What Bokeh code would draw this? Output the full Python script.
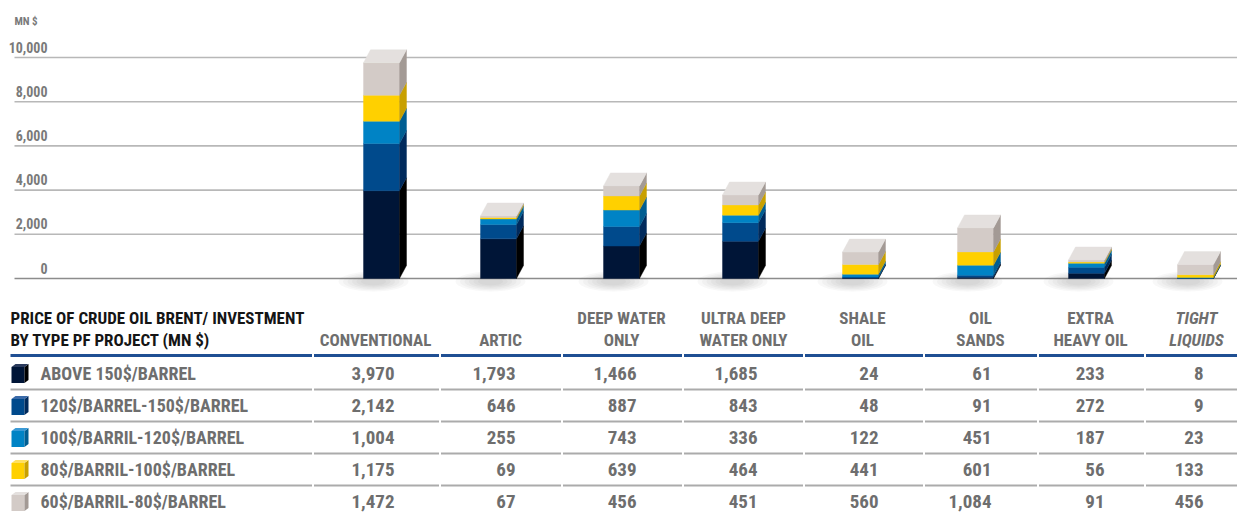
from bokeh.plotting import figure
from bokeh.models import Range1d, Label
from bokeh.layouts import column
from bokeh.core.properties import value
from bokeh.embed import file_html
from bokeh.resources import INLINE

# ---- data -------------------------------------------------------------
project_types = ["CONVENTIONAL", "ARTIC", "DEEP WATER ONLY", "ULTRA DEEP WATER ONLY",
                 "SHALE OIL", "OIL SANDS", "EXTRA HEAVY OIL", "TIGHT LIQUIDS"]
header_line1 = ["", "", "DEEP WATER", "ULTRA DEEP", "SHALE", "OIL", "EXTRA", "TIGHT"]
header_line2 = ["CONVENTIONAL", "ARTIC", "ONLY", "WATER ONLY", "OIL", "SANDS", "HEAVY OIL", "LIQUIDS"]

price_bands = ["ABOVE 150$/BARREL", "120$/BARREL-150$/BARREL", "100$/BARRIL-120$/BARREL",
               "80$/BARRIL-100$/BARREL", "60$/BARRIL-80$/BARREL"]

above_150 = [3970, 1793, 1466, 1685, 24, 61, 233, 8]
from_120_to_150 = [2142, 646, 887, 843, 48, 91, 272, 9]
from_100_to_120 = [1004, 255, 743, 336, 122, 451, 187, 23]
from_80_to_100 = [1175, 69, 639, 464, 441, 601, 56, 133]
from_60_to_80 = [1472, 67, 456, 451, 560, 1084, 91, 456]
series = [above_150, from_120_to_150, from_100_to_120, from_80_to_100, from_60_to_80]

y_ticks = [0, 2000, 4000, 6000, 8000, 10000]
y_tick_labels = ["0", "2,000", "4,000", "6,000", "8,000", "10,000"]
unit_label = "MN $"
table_title = ["PRICE OF CRUDE OIL BRENT/ INVESTMENT", "BY TYPE PF PROJECT (MN $)"]

# ---- styling ----------------------------------------------------------
FONT = "Roboto Condensed, Liberation Sans Narrow, DejaVu Sans Condensed, sans-serif"
FRONT = ["#001537", "#004a8c", "#0083c5", "#ffd000", "#d3cbc7"]
SIDE = ["#000000", "#002a5c", "#005e92", "#c8a000", "#a39a95"]
TOP = ["#2a3a5c", "#3a6aa8", "#3a9ad6", "#ffe060", "#e4e0de"]
GREY_TEXT = "#6e6e6e"

W = 1237
H_CHART = 292
H_TABLE = 220

# chart geometry (pixels): baseline at 278, 10,000 at 57
px_per_unit = (278 - 57) / 10000
y_lo = -(H_CHART - 278) / px_per_unit
y_hi = 278 / px_per_unit

bar_centers = [381, 498, 621, 740, 860, 975, 1086, 1195]
bar_half = 18
depth_x = 7
depth_y = 13 / px_per_unit

head_centers = [375, 500, 621, 743, 862, 980, 1090, 1196]
num_right = [394, 515, 636, 757, 878, 991, 1104, 1203]
col_breaks = [312, 439, 561, 682, 803, 923, 1037, 1144]


def bare_figure(height, x_range, y_range):
    f = figure(width=W, height=height, x_range=x_range, y_range=y_range,
               output_backend="svg", toolbar_location=None,
               x_axis_location=None, y_axis_location=None, min_border=0)
    f.grid.visible = False
    f.outline_line_color = None
    f.background_fill_color = "white"
    f.border_fill_color = "white"
    return f


# ---- stacked 3D bars ----------------------------------------------------
p1 = bare_figure(H_CHART, Range1d(0, W), Range1d(y_lo, y_hi))

# gridlines and their labels
p1.segment(x0=[14] * len(y_ticks), x1=[W] * len(y_ticks), y0=y_ticks, y1=y_ticks,
           line_color=["#8c8c8c"] + ["#b8b8b8"] * (len(y_ticks) - 1), line_width=1.6)
p1.text(x=[47] * len(y_ticks), y=y_ticks, text=y_tick_labels, text_align="right",
        text_baseline="bottom", y_offset=-5, text_font=value(FONT), text_font_style="bold",
        text_font_size="14px", text_color="#7a7a7a")
p1.add_layout(Label(x=14, y=H_CHART - 21, x_units="screen", y_units="screen", text=unit_label,
                    text_font=FONT, text_font_style="bold", text_font_size="11px",
                    text_color="#7a7a7a", text_baseline="middle"))

# soft drop shadow under each bar
for j in range(6):
    p1.ellipse(x=[c - 8 for c in bar_centers], y=[-3 / px_per_unit] * len(bar_centers),
               width=70 - 9 * j, height=(20 - 2.5 * j) / px_per_unit,
               fill_color="#555555", fill_alpha=0.045, line_color=None)

n = len(project_types)
lefts = [c - bar_half for c in bar_centers]
rights = [c + bar_half for c in bar_centers]
bottoms = [0.0] * n
top_color = [TOP[0]] * n
for s, vals in enumerate(series):
    tops = [bottoms[i] + vals[i] for i in range(n)]
    p1.quad(left=lefts, right=rights, bottom=bottoms, top=tops,
            fill_color=FRONT[s], line_color=FRONT[s], line_width=0.4)
    p1.patches(xs=[[r, r + depth_x, r + depth_x, r] for r in rights],
               ys=[[bottoms[i], bottoms[i] + depth_y, tops[i] + depth_y, tops[i]] for i in range(n)],
               fill_color=SIDE[s], line_color=SIDE[s], line_width=0.4)
    for i in range(n):
        if vals[i] > 0:
            top_color[i] = TOP[s]
    bottoms = tops

p1.patches(xs=[[lefts[i], lefts[i] + depth_x, rights[i] + depth_x, rights[i]] for i in range(n)],
           ys=[[bottoms[i], bottoms[i] + depth_y, bottoms[i] + depth_y, bottoms[i]] for i in range(n)],
           fill_color=top_color, line_color=top_color, line_width=0.4)

# ---- data table ---------------------------------------------------------
row_px = 32
first_row_px = 81
t_hi = first_row_px / row_px
t_lo = -(H_TABLE - first_row_px) / row_px
p2 = bare_figure(H_TABLE, Range1d(0, W), Range1d(t_lo, t_hi))

# table title
p2.text(x=[10, 10], y=[1.72, 1.06], text=table_title, text_align="left", text_baseline="middle",
        text_font=value(FONT), text_font_style="bold", text_font_size="17px", text_color="#151515")

# column headers
hx1 = [head_centers[i] for i in range(n) if header_line1[i]]
ht1 = [h for h in header_line1 if h]
styles1 = ["bold italic" if t == "TIGHT" else "bold" for t in ht1]
p2.text(x=hx1, y=[1.72] * len(hx1), text=ht1, text_align="center", text_baseline="middle",
        text_font=value(FONT), text_font_style=styles1, text_font_size="17px", text_color=GREY_TEXT)
styles2 = ["bold italic" if t == "LIQUIDS" else "bold" for t in header_line2]
p2.text(x=head_centers, y=[1.06] * n, text=header_line2, text_align="center", text_baseline="middle",
        text_font=value(FONT), text_font_style=styles2, text_font_size="17px", text_color=GREY_TEXT)

# rules: blue under the header, grey between rows, broken at column edges
seg_x0 = [10] + [b + 1.5 for b in col_breaks]
seg_x1 = [b - 0.5 for b in col_breaks] + [W]
p2.segment(x0=seg_x0, x1=seg_x1, y0=[0.56] * len(seg_x0), y1=[0.56] * len(seg_x0),
           line_color="#1f4f93", line_width=3)
for r in range(len(price_bands)):
    yy = -r - 0.5
    p2.segment(x0=seg_x0, x1=seg_x1, y0=[yy] * len(seg_x0), y1=[yy] * len(seg_x0),
               line_color="#ababab", line_width=1.8)

# legend cubes and row labels
nb = len(price_bands)
icon_h = 9.5 / row_px
icon_dy = 3 / row_px
row_y = [-r for r in range(nb)]
p2.quad(left=[11] * nb, right=[24] * nb, bottom=[y - icon_h for y in row_y],
        top=[y + icon_h - icon_dy for y in row_y], fill_color=FRONT, line_color=None)
p2.patches(xs=[[24, 28, 28, 24]] * nb,
           ys=[[y - icon_h, y - icon_h + icon_dy, y + icon_h, y + icon_h - icon_dy] for y in row_y],
           fill_color=SIDE, line_color=None)
p2.patches(xs=[[11, 15, 28, 24]] * nb,
           ys=[[y + icon_h - icon_dy, y + icon_h, y + icon_h, y + icon_h - icon_dy] for y in row_y],
           fill_color=TOP, line_color=None)
p2.text(x=[40] * nb, y=row_y, text=price_bands, text_align="left", text_baseline="middle",
        text_font=value(FONT), text_font_style="bold", text_font_size="18px", text_color=GREY_TEXT)

# values
for r, vals in enumerate(series):
    p2.text(x=num_right, y=[-r] * n, text=[f"{v:,}" for v in vals], text_align="right",
            text_baseline="middle", text_font=value(FONT), text_font_style="bold",
            text_font_size="19px", text_color=GREY_TEXT)

layout = column(p1, p2, spacing=0)
open("out.html", "w").write(file_html(layout, INLINE))
